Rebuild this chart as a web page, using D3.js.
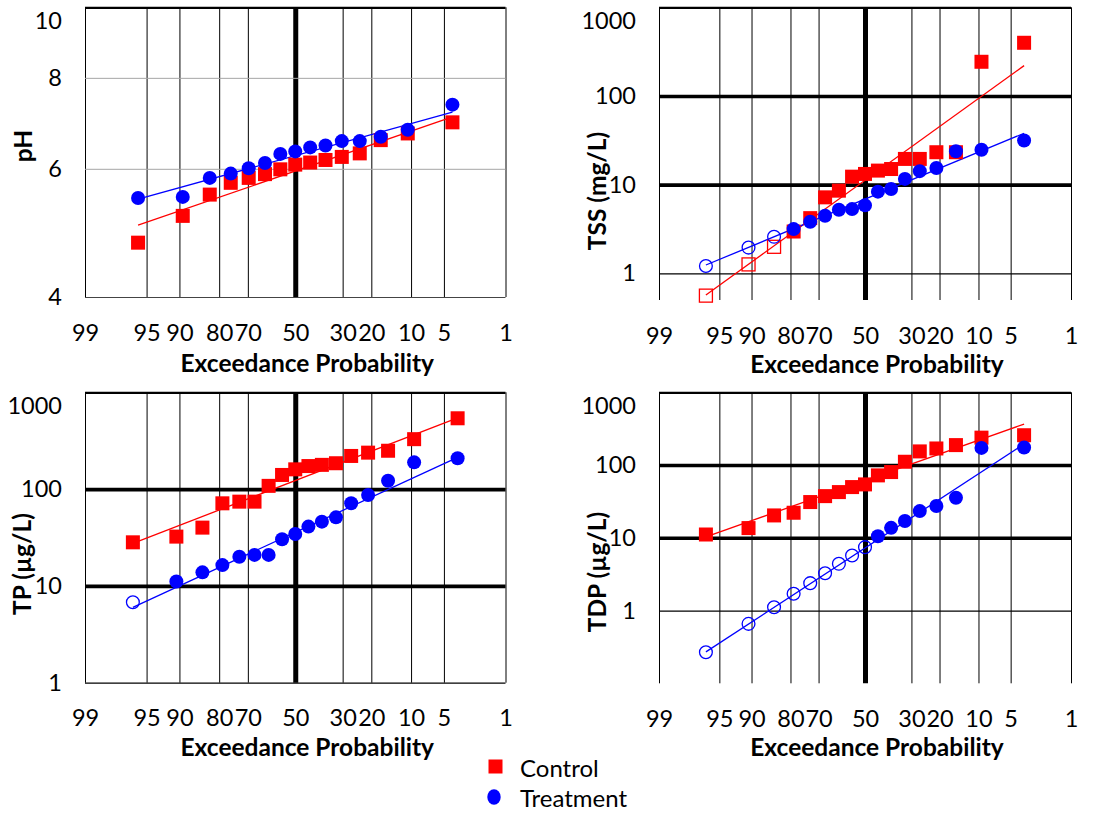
<!DOCTYPE html>
<html>
<head>
<meta charset="utf-8">
<script src="https://cdn.jsdelivr.net/npm/d3@7"></script>
<style>
  body { margin: 0; background: #fff; }
  svg { display: block; }
  text { font-family: Lato, "Open Sans", sans-serif; fill: #000; }
</style>
</head>
<body>
<svg id="chart" width="1094" height="816"></svg>
<script>
// Exceedance probabilities (%) of the Blom plotting positions, lowest value first
const exceed15 = [95.90, 89.34, 82.79, 76.23, 69.67, 63.11, 56.56, 50.00, 43.44, 36.89, 30.33, 23.77, 17.21, 10.66, 4.10];
const exceed17 = [96.38, 90.58, 84.78, 78.99, 73.19, 67.39, 61.59, 55.80, 50.00, 44.20, 38.41, 32.61, 26.81, 21.01, 15.22, 9.42, 3.62];
const probTicks = [99, 95, 90, 80, 70, 50, 30, 20, 10, 5, 1];
const seriesNames = ["Control", "Treatment"];
const seriesColors = ["#ff0000", "#0000ff"];

// pH
const phControl   = [4.75, 5.17, 5.53, 5.74, 5.83, 5.90, 5.99, 6.08, 6.12, 6.17, 6.23, 6.30, 6.57, 6.71, 6.95];
const phTreatment = [5.47, 5.49, 5.83, 5.91, 6.01, 6.11, 6.29, 6.34, 6.42, 6.46, 6.55, 6.55, 6.64, 6.79, 7.35];
const phControlFit = [5.02, 7.07];
const phTreatmentFit = [5.45, 7.18];
const phTicks = [4, 6, 8, 10];

// TSS (mg/L); the first values of each series are below the detection limit
const tssControl   = [0.56, 1.26, 1.99, 2.96, 4.19, 7.19, 8.55, 12.3, 13.2, 14.4, 15.0, 19.5, 19.5, 23.2, 23.2, 243, 398];
const tssTreatment = [1.21, 1.95, 2.58, 3.15, 3.81, 4.46, 5.21, 5.30, 5.84, 8.33, 8.93, 11.6, 14.2, 15.4, 23.8, 24.7, 31.5];
const tssControlCensored = 3;
const tssTreatmentCensored = 3;
const tssControlFit = [0.57, 220];
const tssTreatmentFit = [1.24, 38];

// TP (µg/L)
const tpControl   = [28.2, 32.3, 40.0, 71.3, 74.2, 74.2, 108, 140, 160, 173, 178, 185, 220, 238, 249, 328, 539];
const tpTreatment = [6.77, 11.1, 13.8, 16.4, 20.0, 20.9, 20.9, 30.3, 34.4, 41.0, 46.1, 51.1, 71.3, 87.0, 122, 189, 208];
const tpControlCensored = 0;
const tpTreatmentCensored = 1;
const tpControlFit = [27.5, 545];
const tpTreatmentFit = [6.0, 213];

// TDP (µg/L)
const tdpControl   = [11.1, 13.6, 20.3, 22.1, 31.0, 37.4, 42.5, 49.8, 54.2, 72.1, 80.1, 111, 154, 169, 188, 238, 257];
const tdpTreatment = [0.267, 0.656, 1.11, 1.70, 2.38, 3.26, 4.39, 5.71, 7.44, 10.5, 13.7, 17.0, 23.3, 27.3, 35.5, 172, 174];
const tdpControlCensored = 0;
const tdpTreatmentCensored = 9;
const tdpControlFit = [10.3, 366];
const tdpTreatmentFit = [0.27, 194];

const logTicks = [1, 10, 100, 1000];

// Inverse of the standard normal CDF (Acklam's rational approximation)
function invNorm(p) {
  const a = [-3.969683028665376e+01, 2.209460984245205e+02, -2.759285104469687e+02, 1.383577518672690e+02, -3.066479806614716e+01, 2.506628277459239e+00];
  const b = [-5.447609879822406e+01, 1.615858368580409e+02, -1.556989798598866e+02, 6.680131188771972e+01, -1.328068155288572e+01];
  const c = [-7.784894002430293e-03, -3.223964580411365e-01, -2.400758277161838e+00, -2.549732539343734e+00, 4.374664141464968e+00, 2.938163982698783e+00];
  const d = [7.784695709041462e-03, 3.224671290700398e-01, 2.445134137142996e+00, 3.754408661907416e+00];
  const pl = 0.02425, ph = 1 - pl;
  let q, r;
  if (p < pl) {
    q = Math.sqrt(-2 * Math.log(p));
    return (((((c[0]*q+c[1])*q+c[2])*q+c[3])*q+c[4])*q+c[5]) / ((((d[0]*q+d[1])*q+d[2])*q+d[3])*q+1);
  }
  if (p > ph) {
    q = Math.sqrt(-2 * Math.log(1 - p));
    return -(((((c[0]*q+c[1])*q+c[2])*q+c[3])*q+c[4])*q+c[5]) / ((((d[0]*q+d[1])*q+d[2])*q+d[3])*q+1);
  }
  q = p - 0.5; r = q * q;
  return (((((a[0]*r+a[1])*r+a[2])*r+a[3])*r+a[4])*r+a[5])*q / (((((b[0]*r+b[1])*r+b[2])*r+b[3])*r+b[4])*r+1);
}
// exceedance percent -> normal score (left = high exceedance)
const zOf = pct => invNorm(1 - pct / 100);

const panels = [
  { label: "pH", exceed: exceed15, series: [phControl, phTreatment], censored: [0, 0],
    fits: [phControlFit, phTreatmentFit], domain: [4, 10], ticks: phTicks, kind: "ph",
    box: { left: 85, right: 505.5, top: 7.3, bottom: 297 }, yTitle: [32, 146] },
  { label: "TSS (mg/L)", exceed: exceed17, series: [tssControl, tssTreatment],
    censored: [tssControlCensored, tssTreatmentCensored],
    fits: [tssControlFit, tssTreatmentFit], domain: [0.5, 1000], ticks: logTicks, kind: "log",
    box: { left: 659, right: 1071, top: 7.3, bottom: 300 }, yTitle: [606, 191] },
  { label: "TP (µg/L)", exceed: exceed17, series: [tpControl, tpTreatment],
    censored: [tpControlCensored, tpTreatmentCensored],
    fits: [tpControlFit, tpTreatmentFit], domain: [1, 1000], ticks: logTicks, kind: "log",
    box: { left: 85, right: 505.5, top: 392.3, bottom: 682.7 }, yTitle: [31, 564] },
  { label: "TDP (µg/L)", exceed: exceed17, series: [tdpControl, tdpTreatment],
    censored: [tdpControlCensored, tdpTreatmentCensored],
    fits: [tdpControlFit, tdpTreatmentFit], domain: [0.1, 1000], ticks: logTicks, kind: "log",
    box: { left: 659, right: 1071, top: 392.3, bottom: 683.3 }, yTitle: [606, 572] }
];

const svg = d3.select("#chart");
const zMax = zOf(1);
const tickFont = 23.5;
const titleFont = 24.5;

panels.forEach(p => {
  const b = p.box;
  const w = b.right - b.left, h = b.bottom - b.top;
  const g = svg.append("g").attr("transform", `translate(${b.left},${b.top})`);
  const x = d3.scaleLinear().domain([-zMax, zMax]).range([0, w]);
  const y = d3.scaleLog().domain(p.domain).range([h, 0]);

  // vertical probability grid
  const xAxis = g.append("g").attr("transform", `translate(0,${h})`)
    .call(d3.axisBottom(x)
      .tickValues(probTicks.map(zOf))
      .tickFormat((d, i) => probTicks[i])
      .tickSize(-h).tickPadding(27));
  xAxis.select(".domain").remove();
  xAxis.selectAll(".tick line")
    .attr("stroke", "#000")
    .attr("stroke-width", (d, i) => probTicks[i] === 50 ? 5 : 1);
  xAxis.selectAll(".tick text").attr("font-size", tickFont);

  // horizontal value grid
  const yAxis = g.append("g")
    .call(d3.axisLeft(y).tickValues(p.ticks).tickFormat(d3.format("d"))
      .tickSize(-w).tickPadding(23));
  yAxis.select(".domain").remove();
  const maxTick = d3.max(p.ticks);
  yAxis.selectAll(".tick line")
    .attr("stroke", d => {
      if (p.kind === "ph") return d === maxTick ? "#000" : (d === p.ticks[0] ? "#444" : "#a6a6a6");
      return "#000";
    })
    .attr("stroke-width", d => {
      if (d === maxTick) return 2.2;
      if (p.kind === "ph") return 1;
      return d === 1 ? 1.2 : 3.6;
    });
  // the top label sits a little below its gridline
  yAxis.selectAll(".tick text").attr("font-size", tickFont)
    .attr("y", d => d === maxTick ? 14 : 0);

  // fitted lines
  p.fits.forEach((f, si) => {
    const ex = p.exceed;
    g.append("line")
      .attr("x1", x(zOf(ex[0]))).attr("y1", y(f[0]))
      .attr("x2", x(zOf(ex[ex.length - 1]))).attr("y2", y(f[1]))
      .attr("stroke", seriesColors[si]).attr("stroke-width", 1.3);
  });

  // points: open markers for values below detection
  p.series.forEach((vals, si) => {
    const col = seriesColors[si];
    const pts = vals.map((v, i) => ({ x: x(zOf(p.exceed[i])), y: y(v), open: i < p.censored[si] }));
    const sel = g.append("g").selectAll("*").data(pts).enter();
    if (si === 0) {
      sel.append("rect")
        .attr("x", d => d.x - (d.open ? 6.5 : 7)).attr("y", d => d.y - (d.open ? 6.5 : 7))
        .attr("width", d => d.open ? 13 : 14).attr("height", d => d.open ? 13 : 14)
        .attr("fill", d => d.open ? "none" : col)
        .attr("stroke", d => d.open ? col : "none").attr("stroke-width", 1.3);
    } else {
      sel.append("circle")
        .attr("cx", d => d.x).attr("cy", d => d.y).attr("r", d => d.open ? 6.4 : 7)
        .attr("fill", d => d.open ? "none" : col)
        .attr("stroke", d => d.open ? col : "none").attr("stroke-width", 1.3);
    }
  });

  // axis titles
  svg.append("text")
    .attr("transform", `translate(${p.yTitle[0]},${p.yTitle[1]}) rotate(-90)`)
    .attr("text-anchor", "middle").attr("font-size", titleFont).attr("font-weight", "bold")
    .text(p.label);
  svg.append("text")
    .attr("x", b.left + w / 2 + 12).attr("y", b.bottom + (p.kind === "ph" ? 75 : 73))
    .attr("text-anchor", "middle").attr("font-size", titleFont).attr("font-weight", "bold")
    .text("Exceedance Probability");
});

// legend
const legend = svg.append("g");
seriesNames.forEach((name, i) => {
  const cy = i === 0 ? 766.5 : 797;
  if (i === 0) {
    legend.append("rect").attr("x", 488.5).attr("y", cy - 7).attr("width", 14).attr("height", 14)
      .attr("fill", seriesColors[i]);
  } else {
    legend.append("ellipse").attr("cx", 494).attr("cy", cy).attr("rx", 6.7).attr("ry", 7.8)
      .attr("fill", seriesColors[i]);
  }
  legend.append("text").attr("x", 520).attr("y", cy + 10).attr("font-size", 24).text(name);
});
</script>
</body>
</html>
